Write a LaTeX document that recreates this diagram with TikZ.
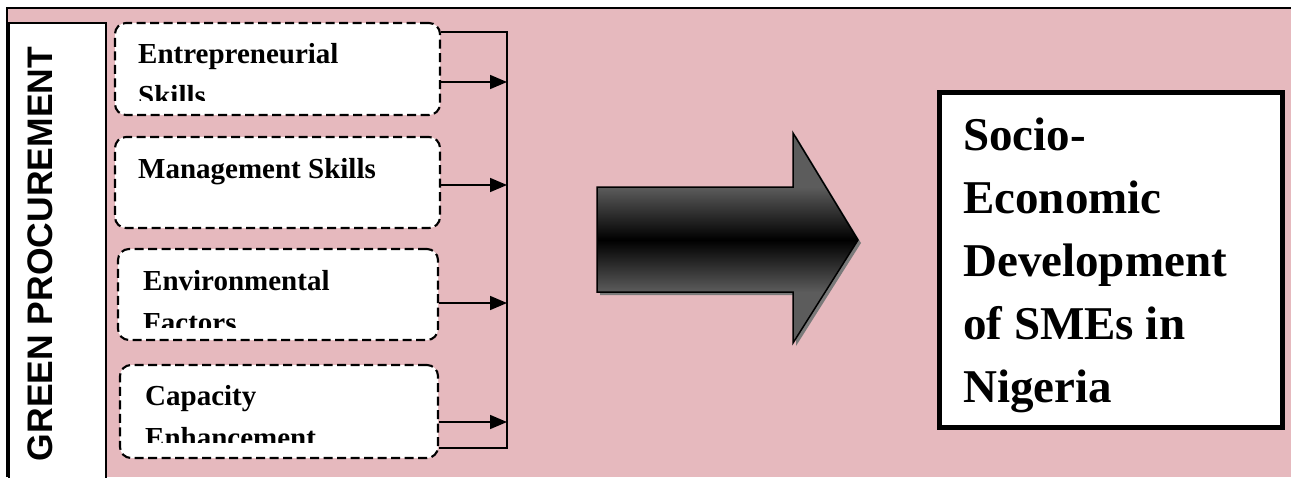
\documentclass[tikz,border=0pt]{standalone}
\usepackage{fontspec}
\setmainfont{Liberation Serif}
\newfontfamily\labelsans{Liberation Sans}
\usetikzlibrary{arrows.meta}
\definecolor{bgpink}{HTML}{E6B9BE}
\definecolor{arrowgray}{HTML}{5C5C5C}
\definecolor{shadowgray}{HTML}{7A7A7A}
\tikzset{
  factorbox/.style={draw, fill=white, line width=2.1pt, dash pattern=on 9pt off 4.5pt,
    rounded corners=11pt, inner sep=0pt},
  factortext/.style={inner sep=0pt, anchor=base west,
    font=\bfseries\fontsize{29}{42}\selectfont},
  outtext/.style={inner sep=0pt, anchor=base west,
    font=\bfseries\fontsize{47}{63}\selectfont},
  bracketline/.style={line width=1.4pt, line join=miter},
  link/.style={line width=1.7pt, -{Triangle[length=17pt,width=14pt]}},
}
\begin{document}
\begin{tikzpicture}[x=1pt,y=-1pt]
\useasboundingbox (0,0) rectangle (1291,477);

% background panel
\fill[bgpink] (7,8) rectangle (1291,477);
\draw[line width=1.5pt] (7,477) -- (7,8) -- (1291,8);

% side label
\node[draw, fill=white, line width=1.5pt, minimum width=97pt, minimum height=470pt,
      inner sep=0pt, anchor=north west] (gp) at (8,22) {};
\node[rotate=90, inner sep=0pt, font=\labelsans\bfseries\fontsize{35.5}{36}\selectfont]
      (gptext) at (40.5,254) {GREEN PROCUREMENT};

% factor boxes
\node[factorbox, minimum width=325pt, minimum height=92pt] (f1) at (277.5,69) {};
\node[factorbox, minimum width=325pt, minimum height=91pt] (f2) at (277.5,182.5) {};
\node[factorbox, minimum width=320pt, minimum height=91pt] (f3) at (278,294.5) {};
\node[factorbox, minimum width=318pt, minimum height=93pt] (f4) at (279,411.5) {};

\begin{scope}
  \clip (115,23) rectangle (440,100);
  \node[factortext] (t1) at (138,63) {\parbox[t]{300pt}{Entrepreneurial\\Skills}};
\end{scope}
\node[factortext] (t2) at (138,178) {Management Skills};
\begin{scope}
  \clip (118,249) rectangle (438,327);
  \node[factortext] (t3) at (143,290) {\parbox[t]{290pt}{Environmental\\Factors}};
\end{scope}
\begin{scope}
  \clip (120,365) rectangle (438,442);
  \node[factortext] (t4) at (145,405) {\parbox[t]{290pt}{Capacity\\Enhancement}};
\end{scope}

% collecting bracket
\coordinate (bTop) at (507,32);
\coordinate (bBot) at (507,448);
\coordinate (j1) at (507,82);
\coordinate (j2) at (507,185);
\coordinate (j3) at (507,303);
\coordinate (j4) at (507,422);
\draw[bracketline] (f1.east |- bTop) -- (bTop) -- (bBot) -- (f4.east |- bBot);
\draw[link] (f1.east |- j1) -- (j1);
\draw[link] (f2.east |- j2) -- (j2);
\draw[link] (f3.east |- j3) -- (j3);
\draw[link] (f4.east |- j4) -- (j4);

% big block arrow: shadow, shaded body, outline
\fill[shadowgray] (600,190) -- (796,190) -- (796,136) -- (861,243) -- (796,346)
  -- (796,295) -- (600,295) -- cycle;
\begin{scope}
  \clip (597,187) -- (793,187) -- (793,133) -- (858,240) -- (793,343)
    -- (793,292) -- (597,292) -- cycle;
  \fill[arrowgray] (590,125) rectangle (865,350);
  \shade[top color=arrowgray, bottom color=black] (590,187) rectangle (865,240);
  \shade[top color=black, bottom color=arrowgray] (590,240) rectangle (865,292);
\end{scope}
\draw[line width=1.5pt, line join=miter] (597,187) -- (793,187) -- (793,133)
  -- (858,240) -- (793,343) -- (793,292) -- (597,292) -- cycle;

% outcome box
\node[draw, fill=white, line width=5pt, minimum width=343pt, minimum height=335pt,
      inner sep=0pt] (out) at (1111,260) {};
\node[outtext] (outlabel) at (963,150)
  {\parbox[t]{310pt}{Socio-\\Economic\\Development\\of SMEs in\\Nigeria}};
\end{tikzpicture}
\end{document}
